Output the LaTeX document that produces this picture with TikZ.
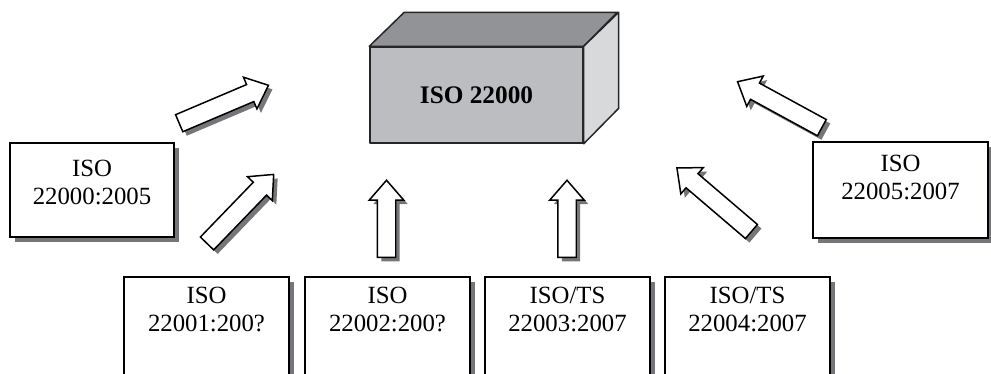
\documentclass[tikz,border=0pt]{standalone}
\usepackage{fontspec}
\setmainfont{Liberation Serif}
\usepackage{tikz}
\usetikzlibrary{positioning}
\usetikzlibrary{shadows}
\usetikzlibrary{shapes.arrows}

\definecolor{frontgray}{RGB}{188,189,192}
\definecolor{topgray}{RGB}{145,147,150}
\definecolor{sidegray}{RGB}{216,217,219}
\definecolor{shadowgray}{RGB}{118,118,122}

\tikzset{
	stdbox/.style={draw=black, fill=white, line width=1.1pt, inner sep=0pt,
		drop shadow={shadow xshift=0.1cm, shadow yshift=-0.1cm, fill=shadowgray, opacity=1}},
	stdtext/.style={font=\fontsize{14.1}{15.9}\selectfont, align=center, inner sep=0pt},
	cubeface/.style={draw=black!85, line width=0.85pt, line join=round},
	fatarrow/.style={single arrow, draw=black, fill=white, line width=0.85pt,
		inner sep=0.17cm, minimum height=#1, minimum width=0.66cm,
		single arrow head extend=0.16cm, single arrow tip angle=82, anchor=tail,
		drop shadow={shadow xshift=0.08cm, shadow yshift=-0.08cm, fill=shadowgray, opacity=1}}
}

\begin{document}
\begin{tikzpicture}[x=0.02cm, y=0.02cm]
	%\draw [help lines, step=10, gray] (0,0) grid (991, 373);
	\useasboundingbox (0,0) rectangle (991,373);
	\clip (0,0) rectangle (991,373);

	% the cube
	\node (cube) [cubeface, fill=frontgray, minimum width=4.26cm, minimum height=1.92cm,
		font=\fontsize{14.4}{15.9}\selectfont\bfseries] at (476.5,278) {ISO 22000};
	\draw [cubeface, fill=topgray] (cube.north west) -- ++(35,34) -- ++(213,0) -- (cube.north east) -- cycle;
	\draw [cubeface, fill=sidegray] (cube.north east) -- ++(35,34) -- ++(0,-96) -- (cube.south east) -- cycle;

	% boxes
	\node (B0) [stdbox, minimum width=3.28cm, minimum height=1.88cm] at (92,183) {};
	\node (T0) [stdtext, below=0.36cm of B0.north] {ISO\\22000:2005};

	\node (B5) [stdbox, minimum width=3.5cm, minimum height=1.92cm] at (900.5,183) {};
	\node (T5) [stdtext, below=0.28cm of B5.north] {ISO\\22005:2007};

	\node (B1) [stdbox, minimum width=3.3cm, minimum height=2cm] at (206.5,46) {};
	\node (T1) [stdtext, below=0.22cm of B1.north] {ISO\\22001:200?};

	\node (B2) [stdbox, minimum width=3.3cm, minimum height=2cm] at (387.5,46) {};
	\node (T2) [stdtext, below=0.22cm of B2.north] {ISO\\22002:200?};

	\node (B3) [stdbox, minimum width=3.3cm, minimum height=2cm] at (567.5,46) {};
	\node (T3) [stdtext, below=0.22cm of B3.north] {ISO/TS\\22003:2007};

	\node (B4) [stdbox, minimum width=3.3cm, minimum height=2cm] at (747.5,46) {};
	\node (T4) [stdtext, below=0.22cm of B4.north] {ISO/TS\\22004:2007};

	% arrows
	\node (A1) [fatarrow=1.94cm, rotate=23] at (178.5,249.5) {};
	\node (A2) [fatarrow=1.92cm, rotate=46] at (206.5,129) {};
	\node (A3) [fatarrow=1.54cm, rotate=90] at (386.5,115) {};
	\node (A4) [fatarrow=1.54cm, rotate=90] at (567,115) {};
	\node (A5) [fatarrow=1.96cm, rotate=139.5] at (752,141) {};
	\node (A6) [fatarrow=1.92cm, rotate=151.4] at (822.5,245) {};
\end{tikzpicture}
\end{document}
